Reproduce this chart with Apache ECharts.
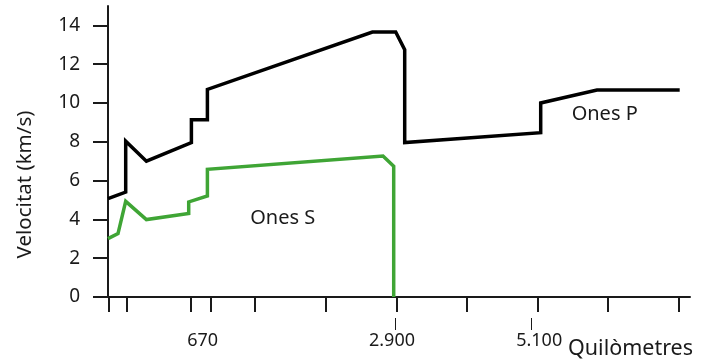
<!DOCTYPE html>
<html>
<head>
<meta charset="utf-8">
<script src="https://cdn.jsdelivr.net/npm/echarts@6/dist/echarts.min.js"></script>
<style>
  html, body { margin: 0; padding: 0; background: #ffffff; }
  #chart { width: 701px; height: 360px; }
</style>
</head>
<body>
<div id="chart"></div>
<script>
// Horizontal axis: schematic distance from the surface (drawing units, not to scale)
// Vertical axis: seismic wave velocity in km/s
const pWaves = [
  [0, 5.07], [17.7, 5.41], [17.7, 8.03], [38.4, 7.0], [83.4, 7.96],
  [83.4, 9.14], [99.4, 9.14], [99.4, 10.7], [264.4, 13.66], [287.7, 13.66],
  [296.7, 12.75], [296.7, 7.96], [432.7, 8.47], [432.7, 10.0], [489, 10.67],
  [571.7, 10.67]
];
const sWaves = [
  [0, 3.01], [10, 3.27], [17.7, 4.93], [38.4, 3.99], [80.7, 4.3],
  [80.7, 4.9], [99.4, 5.21], [99.4, 6.58], [275, 7.27], [285.7, 6.74],
  [285.7, 0]
];
const depthTicks = [0.4, 18.7, 82.4, 102.3, 146.9, 217.7, 288.7, 358.7, 429.5, 500, 570.9];
const depthLabelAt = [94.7, 284, 431.2];
const depthLabels = ['670', '2.900', '5.100'];
const boundaryMarks = [287, 423];
const velocityTicks = [0, 2, 4, 6, 8, 10, 12, 14];

const FONT = '"Noto Sans", sans-serif';
const INK = '#1a1a1a';
const X_MAX = 582;

const chart = echarts.init(document.getElementById('chart'), null, { renderer: 'canvas' });

chart.setOption({
  animation: false,
  backgroundColor: '#ffffff',
  grid: { left: 108, right: 11, top: 6, bottom: 63, containLabel: false },
  xAxis: [
    {
      type: 'value', min: 0, max: X_MAX,
      axisLine: { show: true, lineStyle: { color: INK, width: 2 } },
      axisTick: { show: true, customValues: depthTicks, length: 15, lineStyle: { color: INK, width: 2 } },
      axisLabel: {
        show: true, customValues: depthLabelAt, margin: 35,
        color: INK, fontFamily: FONT, fontSize: 18,
        formatter: v => {
          const i = depthLabelAt.indexOf(v);
          return i >= 0 ? depthLabels[i] : '';
        }
      },
      splitLine: { show: false }
    },
    {
      type: 'value', min: 0, max: X_MAX, position: 'bottom', offset: 21,
      axisLine: { show: false },
      axisTick: { show: true, customValues: boundaryMarks, length: 12, lineStyle: { color: INK, width: 1 } },
      axisLabel: { show: false },
      splitLine: { show: false }
    }
  ],
  yAxis: {
    type: 'value', min: 0, max: 15,
    axisLine: { show: true, lineStyle: { color: INK, width: 2 } },
    axisTick: { show: true, customValues: velocityTicks, length: 15, lineStyle: { color: INK, width: 2 } },
    axisLabel: { show: true, customValues: velocityTicks, margin: 28, color: INK, fontFamily: FONT, fontSize: 19 },
    splitLine: { show: false }
  },
  graphic: [
    {
      type: 'text', x: 25, y: 184.5, rotation: Math.PI / 2,
      style: { text: 'Velocitat (km/s)', fill: INK, font: '20.5px ' + FONT, align: 'center', verticalAlign: 'middle' }
    },
    {
      type: 'text', x: 568, y: 349,
      style: { text: 'Quilòmetres', fill: INK, font: '21.5px ' + FONT, align: 'left', verticalAlign: 'middle' }
    }
  ],
  series: [
    {
      name: 'Ones P', type: 'line', data: pWaves,
      symbol: 'none', showSymbol: false, silent: true,
      lineStyle: { color: '#000000', width: 3.5, join: 'miter' },
      markPoint: {
        symbol: 'circle', symbolSize: 0, silent: true,
        label: { show: true, position: 'inside', formatter: 'Ones P', color: INK, fontFamily: FONT, fontSize: 20 },
        data: [{ coord: [496.7, 9.41] }]
      }
    },
    {
      name: 'Ones S', type: 'line', data: sWaves,
      symbol: 'none', showSymbol: false, silent: true,
      lineStyle: { color: '#3fa535', width: 3.5, join: 'miter' },
      markPoint: {
        symbol: 'circle', symbolSize: 0, silent: true,
        label: { show: true, position: 'inside', formatter: 'Ones S', color: INK, fontFamily: FONT, fontSize: 20 },
        data: [{ coord: [174.7, 4.04] }]
      }
    }
  ]
});
</script>
</body>
</html>
